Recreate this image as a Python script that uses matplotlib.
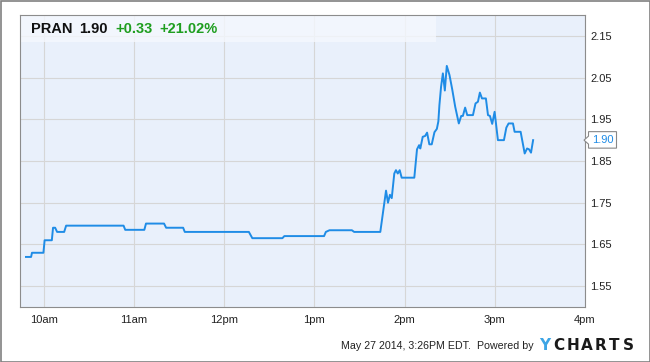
#!/usr/bin/env python3
"""PRAN intraday price chart, YCharts style."""

import matplotlib
matplotlib.use("Agg")
import matplotlib.pyplot as plt
from matplotlib.patches import Rectangle, Polygon

plt.rcParams['font.family'] = ['Liberation Sans', 'DejaVu Sans']

# minutes after 10:00am, and price
minutes = [-11.7, -8.3, -7.7, -0.1, 0.7, 5.5, 6.3, 7.7, 9.0, 13.7, 15.0, 53.2,
           54.3, 67.0, 68.1, 80.1, 81.5, 92.8, 93.9, 136.5, 138.8, 158.8, 160.1,
           186.5, 187.7, 190.1, 205.0, 206.5, 223.9, 227.7, 229.0, 230.3, 231.5,
           233.2, 234.3, 235.5, 236.8, 238.1, 246.5, 248.3, 249.7, 250.5, 252.1,
           253.7, 255.0, 256.5, 258.1, 259.9, 261.5, 262.5, 263.2, 264.3, 265.5,
           266.8, 268.1, 269.9, 271.7, 273.7, 276.1, 277.7, 278.8, 280.3, 281.7,
           285.5, 287.2, 288.8, 290.1, 291.5, 294.1, 295.5, 296.8, 298.3, 299.9,
           302.1, 306.1, 307.7, 309.2, 312.1, 313.2, 317.2, 319.9, 321.5, 322.8,
           324.1, 325.5]
prices = [1.620, 1.620, 1.630, 1.630, 1.660, 1.660, 1.690, 1.690, 1.680, 1.680,
          1.695, 1.695, 1.685, 1.685, 1.700, 1.700, 1.690, 1.690, 1.680, 1.680,
          1.665, 1.665, 1.670, 1.670, 1.680, 1.684, 1.684, 1.680, 1.680, 1.779,
          1.750, 1.769, 1.761, 1.820, 1.828, 1.820, 1.828, 1.810, 1.810, 1.878,
          1.888, 1.880, 1.908, 1.910, 1.918, 1.890, 1.890, 1.919, 1.927, 1.945,
          1.984, 2.028, 2.060, 2.019, 2.078, 2.056, 2.022, 1.980, 1.940, 1.958,
          1.958, 1.978, 1.960, 1.960, 1.988, 1.992, 2.014, 2.000, 2.000, 1.960,
          1.958, 1.939, 1.968, 1.900, 1.900, 1.930, 1.940, 1.940, 1.920, 1.920,
          1.868, 1.880, 1.878, 1.870, 1.900]

x_ticks = [0, 60, 120, 180, 240, 300, 360]
x_labels = ["10am", "11am", "12pm", "1pm", "2pm", "3pm", "4pm"]
y_ticks = [1.55, 1.65, 1.75, 1.85, 1.95, 2.05, 2.15]

ticker, last, change, pct = "PRAN", "1.90", "+0.33", "+21.02%"
last_value = 1.90

line_color = '#1F8CE6'
green = '#1F9E1F'

W, H = 650, 362
fig = plt.figure(figsize=(6.5, 3.62), dpi=100)
ax = fig.add_axes([19.5 / W, 1 - 307 / H, (585 - 19.5) / W, (307 - 15) / H])
ax.set_facecolor('#E9F0FB')

ax.plot(minutes, prices, color=line_color, linewidth=1.4, zorder=3)

ax.set_xlim(-16, 360)
ax.set_ylim(1.50, 2.20)
ax.set_xticks(x_ticks)
ax.set_xticklabels(x_labels)
ax.set_yticks(y_ticks)
ax.set_yticklabels([f"{v:.2f}" for v in y_ticks])
ax.yaxis.tick_right()
ax.tick_params(axis='both', length=0, labelsize=8, colors='#222222')
ax.tick_params(axis='x', pad=6)
ax.tick_params(axis='y', pad=4)
ax.grid(True, color='#D6D6D6', linewidth=0.8)
ax.set_axisbelow(True)
for s in ax.spines.values():
    s.set_color('#8C8C8C')
    s.set_linewidth(0.8)

# header strip
ax.add_patch(Rectangle((0, 1 - 27 / 292), (435.7 - 19.5) / 565.5, 27 / 292,
                       transform=ax.transAxes, facecolor='#F5F8FE',
                       edgecolor='none', alpha=0.8, zorder=2))
ty = 1 - 29 / H
fig.text(31 / W, ty, ticker, fontsize=10.5, fontweight='bold', color='#111111', va='center')
fig.text(79 / W, ty, last, fontsize=10.5, fontweight='bold', color='#111111', va='center')
fig.text(115 / W, ty, change, fontsize=10.5, fontweight='bold', color=green, va='center')
fig.text(159 / W, ty, pct, fontsize=10.5, fontweight='bold', color=green, va='center')

# last price tag
fig.canvas.draw()
_, py = ax.transData.transform((0, last_value))
tip = 584
poly = Polygon([(tip / W, py / H), ((tip + 4.5) / W, (py + 4) / H),
                ((tip + 4.5) / W, (py + 8.5) / H), (616.5 / W, (py + 8.5) / H),
                (616.5 / W, (py - 8) / H), ((tip + 4.5) / W, (py - 8) / H),
                ((tip + 4.5) / W, (py - 4) / H)], closed=True,
               transform=fig.transFigure, facecolor='white', edgecolor='#888888',
               linewidth=0.8, zorder=5)
fig.add_artist(poly)
fig.text(602.5 / W, py / H, last, fontsize=8, color=line_color, ha='center',
         va='center', zorder=6)

# footer
fig.text(534 / W, 1 - 346 / H, "May 27 2014, 3:26PM EDT.  Powered by",
         fontsize=7.7, color='#222222', ha='right', va='center')
fig.text(539 / W, 1 - 346 / H, "Y", fontsize=11, fontweight='bold',
         family='DejaVu Sans', color='#3DA5E5', va='center')
for i, ch in enumerate("CHARTS"):
    fig.text((553 + i * 14) / W, 1 - 346 / H, ch, fontsize=11, fontweight='bold',
             family='DejaVu Sans', color='#1A1A1A', va='center')

# outer frame
fig.add_artist(Rectangle((0.5 / W, 0.5 / H), 649 / W, 361 / H,
                         transform=fig.transFigure, fill=False,
                         edgecolor='#808080', linewidth=1.2))

fig.savefig("out.png", dpi=100)
